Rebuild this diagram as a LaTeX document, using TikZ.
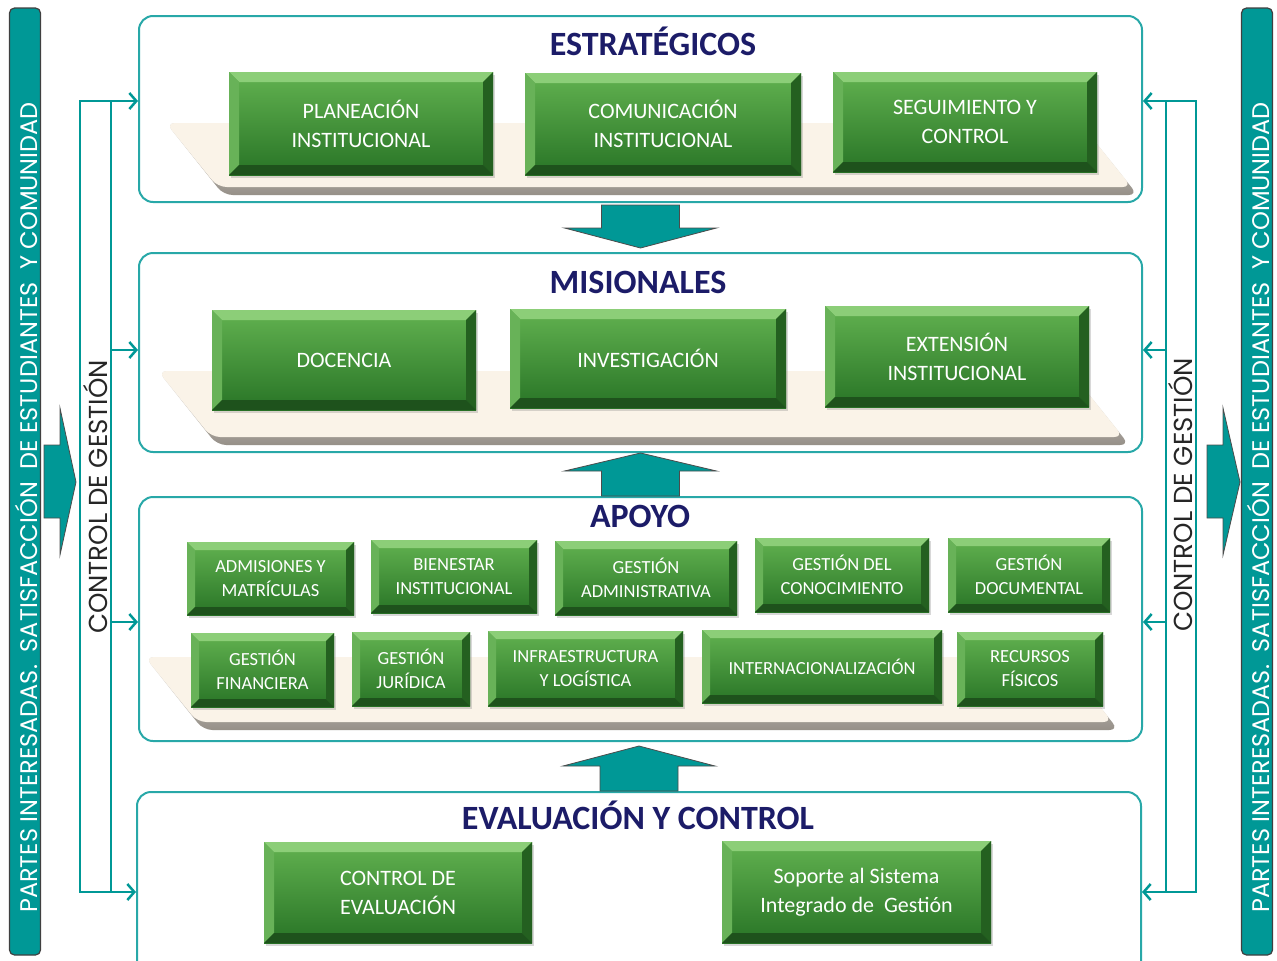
\documentclass[tikz,border=0pt]{standalone}
\usepackage{fontspec}
\setmainfont{Carlito}
\newfontfamily\gothic{Poppins}
\usetikzlibrary{positioning,shadows,arrows.meta}
\definecolor{teal1}{RGB}{0,152,150}
\definecolor{tealine}{RGB}{40,168,168}
\definecolor{navy}{RGB}{28,28,104}
\definecolor{gtop}{RGB}{98,178,80}
\definecolor{gbot}{RGB}{40,116,38}
\definecolor{bvT}{RGB}{140,206,120}
\definecolor{bvL}{RGB}{104,178,88}
\definecolor{bvR}{RGB}{36,96,32}
\definecolor{bvB}{RGB}{30,82,28}
\definecolor{beige}{RGB}{250,243,232}
\definecolor{rimgray}{RGB}{150,144,136}
\def\pb{path picture bounding box}
\newcommand\bevel[1]{%
  \fill[bvT] (\pb.north west) -- (\pb.north east) -- ([shift={(-#1,-#1)}]\pb.north east) -- ([shift={(#1,-#1)}]\pb.north west) -- cycle;
  \fill[bvL] (\pb.north west) -- (\pb.south west) -- ([shift={(#1,#1)}]\pb.south west) -- ([shift={(#1,-#1)}]\pb.north west) -- cycle;
  \fill[bvR] (\pb.north east) -- (\pb.south east) -- ([shift={(-#1,#1)}]\pb.south east) -- ([shift={(-#1,-#1)}]\pb.north east) -- cycle;
  \fill[bvB] (\pb.south west) -- (\pb.south east) -- ([shift={(-#1,#1)}]\pb.south east) -- ([shift={(#1,#1)}]\pb.south west) -- cycle;}
\tikzset{
  panel/.style={draw=tealine, line width=2pt, rounded corners=14pt, fill=white},
  sz/.style 2 args={minimum width=#1pt, minimum height=#2pt},
  proc/.style={top color=gtop, bottom color=gbot, text=white, align=center, inner sep=0pt,
    font=\fontsize{22}{29}\selectfont, path picture={\bevel{10pt}},
    drop shadow={opacity=.3, shadow xshift=2pt, shadow yshift=-3pt}},
  proc s/.style={proc, font=\fontsize{18.5}{24}\selectfont, path picture={\bevel{8pt}}},
  title/.style={text=navy, font=\bfseries\fontsize{34}{40}\selectfont},
  blk/.style={fill=teal1, draw=black!70, line width=0.8pt},
  loop/.style={draw=teal1, line width=2.5pt},
  barb/.tip={Straight Barb[length=7pt,width=16pt]},
  sidebar/.style={draw=black!75, line width=1.2pt, fill=teal1, rounded corners=5pt, rotate=90},
  sidetxt/.style={rotate=90, text=white, font=\gothic\fontsize{24}{28}\selectfont},
  ctrltxt/.style={rotate=90, text=black!85, font=\gothic\fontsize{26}{30}\selectfont}
}
\begin{document}
\begin{tikzpicture}[x=1pt,y=-1pt]
  \useasboundingbox (0,0) rectangle (1277,961);
  \clip (0,0) rectangle (1277,961);
  % panels
  \node[panel, sz={1003}{186}] (strat) at (640.5,109) {};
  \node[panel, sz={1003}{199}] (mis) at (640.5,352.5) {};
  \node[panel, sz={1003}{244}] (apo) at (640.5,619) {};
  \node[panel, sz={1004}{198}] (eval) at (639,891) {};
  % platforms
  \foreach \xa/\ya/\xb/\yb in {166/123/1080/195, 158/371/1070/445, 145/657/1060/730} {
    \pgfmathsetmacro\dx{0.8*(\yb-\ya)}
    \shade[top color=rimgray!30, bottom color=rimgray, rounded corners=9pt] (\xa,\ya) -- (\xb,\ya) -- (\xb+\dx,\yb) -- (\xa+\dx,\yb) -- cycle;
    \fill[beige, rounded corners=9pt] (\xa,\ya) -- (\xb,\ya) -- (\xb+\dx-6,\yb-8) -- (\xa+\dx-6,\yb-8) -- cycle;
  }
  % titles
  \node[title] (tstrat) at (653,41) {ESTRATÉGICOS};
  \node[title] (tmis) at (638,282) {MISIONALES};
  \node[title] (tapo) at (640,516) {APOYO};
  \node[title] (teval) at (638,815) {EVALUACIÓN Y CONTROL};
  % process boxes
  \node[proc, sz={264}{103}] (plan) at (361,123.5) {PLANEACIÓN\\INSTITUCIONAL};
  \node[proc, sz={276}{102}] (comu) at (663,124) {COMUNICACIÓN\\INSTITUCIONAL};
  \node[proc, sz={264}{100}] (segu) at (965,122) {SEGUIMIENTO Y\\CONTROL};
  \node[proc, sz={264}{100}] (doce) at (344,360) {DOCENCIA};
  \node[proc, sz={276}{99}] (inve) at (648,358.5) {INVESTIGACIÓN};
  \node[proc, sz={264}{101}] (exte) at (957,356.5) {EXTENSIÓN\\INSTITUCIONAL};
  \node[proc s, sz={167}{73}] (admi) at (270.5,578.5) {ADMISIONES Y\\MATRÍCULAS};
  \node[proc s, sz={166}{73}] (bien) at (454,576.5) {BIENESTAR\\INSTITUCIONAL};
  \node[proc s, sz={182}{74}] (gadm) at (646,578) {GESTIÓN\\ADMINISTRATIVA};
  \node[proc s, sz={174}{74}] (gcon) at (842,575) {GESTIÓN DEL\\CONOCIMIENTO};
  \node[proc s, sz={162}{74}] (gdoc) at (1029,575) {GESTIÓN\\DOCUMENTAL};
  \node[proc s, sz={143}{74}] (gfin) at (262.5,670) {GESTIÓN\\FINANCIERA};
  \node[proc s, sz={118}{74}] (gjur) at (411,669) {GESTIÓN\\JURÍDICA};
  \node[proc s, sz={195}{75}] (infr) at (585.5,668.5) {INFRAESTRUCTURA\\Y LOGÍSTICA};
  \node[proc s, sz={240}{73}] (inte) at (822,666.5) {INTERNACIONALIZACIÓN};
  \node[proc s, sz={146}{74}] (recu) at (1030,669) {RECURSOS\\FÍSICOS};
  \node[proc, sz={268}{101}] (cevl) at (398,892.5) {CONTROL DE\\EVALUACIÓN};
  \node[proc, sz={269}{102}] (sopo) at (856.5,892) {Soporte al Sistema\\Integrado de~ Gestión};
  % block arrows between levels
  \draw[blk] ([xshift=-39pt]strat.south) ++(0,2) -- ++(0,23) -- ++(-37,0) -- ++(76,20) -- ++(76,-20) -- ++(-37,0) -- ++(0,-23) -- cycle;
  \draw[blk] ([xshift=-39pt]apo.north) -- ++(0,-25) -- ++(-37,0) -- ++(76,-18) -- ++(76,18) -- ++(-37,0) -- ++(0,25) -- cycle;
  \draw[blk] ([xshift=-39pt]eval.north) -- ++(0,-25) -- ++(-37,0) -- ++(76,-20) -- ++(76,20) -- ++(-37,0) -- ++(0,25) -- cycle;
  % side bars
  \node[sidebar, sz={947}{31}] (barL) at (25,481.5) {};
  \node[sidebar, sz={947}{31}] (barR) at (1257,481.5) {};
  \node[sidetxt] (txtL) at (26,507.5) {PARTES INTERESADAS.~ SATISFACCIÓN~ DE ESTUDIANTES~ Y COMUNIDAD};
  \node[sidetxt] (txtR) at (1258,507.5) {PARTES INTERESADAS.~ SATISFACCIÓN~ DE ESTUDIANTES~ Y COMUNIDAD};
  \draw[blk] (44,445) -- (60,445) -- (60,408) -- (76,482) -- (60,555) -- (60,518) -- (44,518) -- cycle;
  \draw[blk] (1207,445) -- (1223,445) -- (1223,408) -- (1240,482) -- (1223,555) -- (1223,518) -- (1207,518) -- cycle;
  % control loops
  \coordinate (lt) at (80,101);
  \coordinate (lb) at (80,892);
  \coordinate (lm1) at (111,350);
  \coordinate (lm2) at (111,622);
  \coordinate (rt) at (1196,101);
  \coordinate (rb) at (1196,892);
  \coordinate (rm1) at (1166,350);
  \coordinate (rm2) at (1166,622);
  \draw[loop, barb-barb] (lt -| strat.west) -- (lt) -- (lb) -- (lb -| eval.west);
  \draw[loop] (lt -| lm1) -- (lb -| lm1);
  \draw[loop, -barb] (lm1) -- (lm1 -| mis.west);
  \draw[loop, -barb] (lm2) -- (lm2 -| apo.west);
  \draw[loop, barb-barb] (rt -| strat.east) -- (rt) -- (rb) -- (rb -| eval.east);
  \draw[loop] (rt -| rm1) -- (rb -| rm1);
  \draw[loop, -barb] (rm1) -- (rm1 -| mis.east);
  \draw[loop, -barb] (rm2) -- (rm2 -| apo.east);
  \node[ctrltxt] (ctrlL) at (95.5,497) {CONTROL DE GESTIÓN};
  \node[ctrltxt] (ctrlR) at (1181,495) {CONTROL DE GESTIÓN};
\end{tikzpicture}
\end{document}
